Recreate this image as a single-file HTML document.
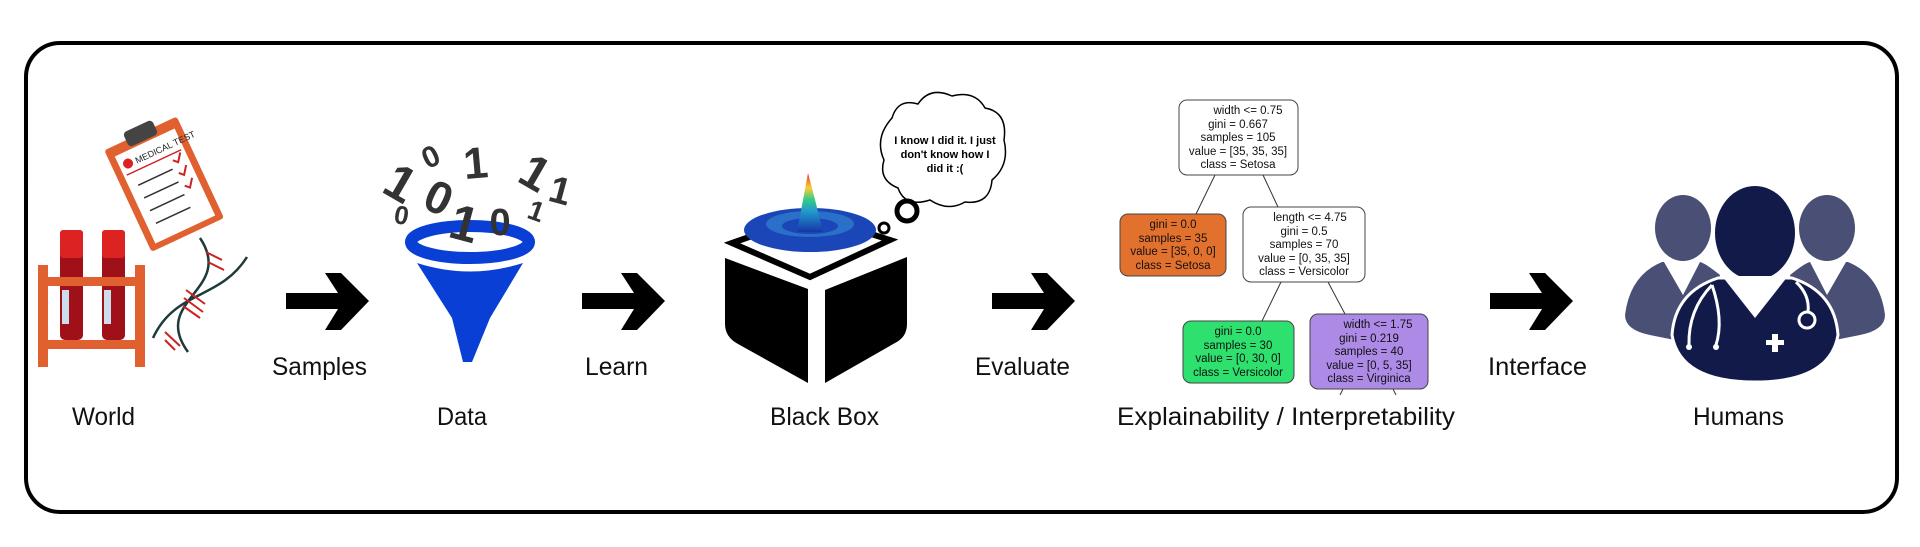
<!DOCTYPE html>
<html><head><meta charset="utf-8"><style>
html,body{margin:0;padding:0;background:#fff;width:1920px;height:547px;overflow:hidden}
svg{display:block}
.lbl{font-family:"Liberation Sans",sans-serif;font-size:25px;fill:#111}
.t{font-family:"Liberation Sans",sans-serif;font-size:11.5px;fill:#111;text-anchor:middle}
.n{font-family:"Liberation Sans",sans-serif;font-weight:bold;fill:#333;text-anchor:middle}
</style></head><body>
<svg width="1920" height="547" viewBox="0 0 1920 547" xmlns="http://www.w3.org/2000/svg">
<defs>
<linearGradient id="surf" x1="0" y1="0" x2="0" y2="1">
<stop offset="0" stop-color="#d33"/><stop offset="0.25" stop-color="#fc3"/><stop offset="0.45" stop-color="#3c8"/><stop offset="0.65" stop-color="#29c"/><stop offset="1" stop-color="#1537a8"/>
</linearGradient>
</defs>
<rect x="26" y="43" width="1871" height="469" rx="34" fill="none" stroke="#000" stroke-width="4"/>

<!-- World -->
<g transform="translate(165,186) rotate(-25)">
<rect x="-40" y="-58" width="80" height="112" fill="#e0602f" rx="3"/>
<rect x="-33" y="-48" width="66" height="96" fill="#fff"/>
<rect x="-16" y="-66" width="32" height="16" fill="#444" rx="4"/>
<circle cx="-24" cy="-36" r="5" fill="#d22"/>
<text x="-16" y="-32" font-family="Liberation Sans,sans-serif" font-size="9" fill="#222">MEDICAL TEST</text>
<line x1="-30" y1="-26" x2="30" y2="-26" stroke="#c22" stroke-width="1.5"/>
<g stroke="#333" stroke-width="1.5"><line x1="-24" y1="-12" x2="14" y2="-12"/><line x1="-24" y1="2" x2="14" y2="2"/><line x1="-24" y1="16" x2="14" y2="16"/><line x1="-24" y1="30" x2="14" y2="30"/></g>
<g stroke="#c22" stroke-width="2" fill="none"><path d="M18 -20 l4 4 l6 -8"/><path d="M18 -6 l4 4 l6 -8"/><path d="M18 8 l4 4 l6 -8"/></g>
</g>
<g>
<rect x="60" y="248" width="23" height="92" fill="#a01018" rx="5"/>
<rect x="102" y="248" width="23" height="92" fill="#a01018" rx="5"/>
<rect x="60" y="230" width="23" height="28" fill="#d22" rx="3"/>
<rect x="102" y="230" width="23" height="28" fill="#d22" rx="3"/>
<rect x="62" y="290" width="7" height="34" fill="#cde"/><rect x="104" y="290" width="7" height="34" fill="#cde"/>
<rect x="38" y="277" width="107" height="9" fill="#e0602f"/>
<rect x="38" y="340" width="107" height="9" fill="#e0602f"/>
<rect x="38" y="265" width="10" height="102" fill="#e0602f"/>
<rect x="135" y="265" width="10" height="102" fill="#e0602f"/>
</g>
<g fill="none" stroke="#1f3a3a" stroke-width="2.5">
<path d="M200 238 C 235 290, 150 300, 188 352"/>
<path d="M247 257 C 220 300, 175 290, 153 338"/>
</g>
<g stroke="#c22" stroke-width="2"><line x1="206" y1="252" x2="222" y2="260"/><line x1="208" y1="262" x2="224" y2="270"/><line x1="186" y1="290" x2="205" y2="304"/><line x1="184" y1="298" x2="203" y2="312"/><line x1="183" y1="306" x2="200" y2="318"/><line x1="165" y1="332" x2="180" y2="346"/><line x1="165" y1="340" x2="175" y2="350"/></g>
<text class="lbl" x="72" y="425" textLength="63" lengthAdjust="spacingAndGlyphs">World</text>

<!-- Arrows -->
<g fill="#000">
<path id="ar" d="M286 293 h52 l-13 -20 h16 l28 28 l-28 29 h-16 l13 -21 h-52z"/>
<use href="#ar" x="296"/><use href="#ar" x="706"/><use href="#ar" x="1204"/>
</g>
<text class="lbl" x="272" y="375" textLength="95" lengthAdjust="spacingAndGlyphs">Samples</text>
<text class="lbl" x="585" y="375" textLength="63" lengthAdjust="spacingAndGlyphs">Learn</text>
<text class="lbl" x="975" y="375" textLength="95" lengthAdjust="spacingAndGlyphs">Evaluate</text>
<text class="lbl" x="1488" y="375" textLength="99" lengthAdjust="spacingAndGlyphs">Interface</text>

<!-- Data funnel -->
<ellipse cx="470" cy="242" rx="59" ry="16" fill="none" stroke="#0a3fd6" stroke-width="12"/>
<path d="M417 263 Q470 280 523 263 L490 318 L472 362 L463 362 L452 318 Z" fill="#0a3fd6"/>
<text class="n" font-size="50" transform="translate(392,198) rotate(30)">1</text>
<text class="n" font-size="30" transform="translate(435,166) rotate(-25)">0</text>
<text class="n" font-size="44" transform="translate(477,178) rotate(-5)">1</text>
<text class="n" font-size="48" transform="translate(527,187) rotate(30)">1</text>
<text class="n" font-size="38" transform="translate(557,203) rotate(15)">1</text>
<text class="n" font-size="46" transform="translate(432,212) rotate(25)">0</text>
<text class="n" font-size="26" transform="translate(400,224) rotate(10)">0</text>
<text class="n" font-size="50" transform="translate(460,240) rotate(15)">1</text>
<text class="n" font-size="38" transform="translate(500,235) rotate(0)">0</text>
<text class="n" font-size="28" transform="translate(533,220) rotate(20)">1</text>
<text class="lbl" x="437" y="425" textLength="50" lengthAdjust="spacingAndGlyphs">Data</text>

<!-- Black box -->
<path d="M732 243 L812 215 L890 240 L810 277 Z" fill="#fff" stroke="#000" stroke-width="6"/>
<ellipse cx="810" cy="230" rx="66" ry="22" fill="#1b46b8"/>
<ellipse cx="810" cy="224" rx="44" ry="13" fill="#2a6fc8"/>
<ellipse cx="810" cy="226" rx="28" ry="8" fill="#1b46b8"/>
<path d="M797 232 Q804 195 808 173 Q814 195 823 232 Z" fill="url(#surf)"/>
<path d="M725 258 L808 289 L808 383 L738 344 Q725 337 725 324 Z" fill="#000"/>
<path d="M825 290 L907 257 L907 324 Q907 337 895 343 L825 383 Z" fill="#000"/>
<text class="lbl" x="770" y="425" textLength="109" lengthAdjust="spacingAndGlyphs">Black Box</text>
<!-- Thought cloud -->
<path d="M892 118 Q898 98 918 104 Q930 86 952 96 Q975 90 985 108 Q1008 112 1004 140 Q1010 165 992 180 Q990 205 965 202 Q948 212 930 200 Q905 208 898 188 Q878 180 884 160 Q874 138 892 118 Z" fill="#fff" stroke="#000" stroke-width="1.5"/>
<g font-family="Liberation Sans,sans-serif" font-weight="bold" font-size="11" text-anchor="middle" fill="#000">
<text x="945" y="144">I know I did it. I just</text><text x="945" y="158">don't know how I</text><text x="945" y="172">did it :(</text></g>
<circle cx="907" cy="211" r="10" fill="none" stroke="#000" stroke-width="5"/>
<circle cx="884" cy="228" r="5" fill="none" stroke="#000" stroke-width="3"/>

<!-- Tree -->
<g stroke="#333" stroke-width="1" fill="none">
<line x1="1215" y1="175" x2="1196" y2="214"/><line x1="1263" y1="175" x2="1278" y2="207"/>
<line x1="1281" y1="282" x2="1262" y2="321"/><line x1="1328" y1="282" x2="1345" y2="314"/>
<line x1="1343" y1="389" x2="1340" y2="395"/><line x1="1393" y1="389" x2="1396" y2="395"/>
</g>
<rect x="1179" y="100" width="119" height="75" rx="8" fill="#fff" stroke="#444"/>
<rect x="1120" y="214" width="106" height="62" rx="8" fill="#e2712e" stroke="#444"/>
<rect x="1243" y="207" width="122" height="75" rx="8" fill="#fff" stroke="#444"/>
<rect x="1183" y="321" width="111" height="62" rx="8" fill="#2ee06e" stroke="#444"/>
<rect x="1310" y="314" width="118" height="75" rx="8" fill="#ad8ae6" stroke="#444"/>
<g class="t">
<text x="1248" y="114">width &lt;= 0.75</text><text x="1238" y="128">gini = 0.667</text><text x="1238" y="141">samples = 105</text><text x="1238" y="155">value = [35, 35, 35]</text><text x="1238" y="168">class = Setosa</text>
<text x="1173" y="228">gini = 0.0</text><text x="1173" y="242">samples = 35</text><text x="1173" y="255">value = [35, 0, 0]</text><text x="1173" y="269">class = Setosa</text>
<text x="1310" y="221">length &lt;= 4.75</text><text x="1304" y="235">gini = 0.5</text><text x="1304" y="248">samples = 70</text><text x="1304" y="262">value = [0, 35, 35]</text><text x="1304" y="275">class = Versicolor</text>
<text x="1238" y="335">gini = 0.0</text><text x="1238" y="349">samples = 30</text><text x="1238" y="362">value = [0, 30, 0]</text><text x="1238" y="376">class = Versicolor</text>
<text x="1378" y="328">width &lt;= 1.75</text><text x="1369" y="342">gini = 0.219</text><text x="1369" y="355">samples = 40</text><text x="1369" y="369">value = [0, 5, 35]</text><text x="1369" y="382">class = Virginica</text>
</g>
<text class="lbl" x="1117" y="425" textLength="338" lengthAdjust="spacingAndGlyphs">Explainability / Interpretability</text>

<!-- Humans -->
<g fill="#4a5075">
<ellipse cx="1683" cy="228" rx="28" ry="33"/>
<ellipse cx="1827" cy="228" rx="28" ry="33"/>
<path d="M1662 262 Q1630 275 1625 315 Q1625 330 1650 335 L1700 345 L1720 275 Q1705 263 1700 262 Z"/>
<path d="M1848 262 Q1880 275 1885 315 Q1885 330 1860 335 L1810 345 L1790 275 Q1805 263 1810 262 Z"/>
</g>
<g fill="#fff"><path d="M1664 262 L1683 295 L1700 262 Z"/><path d="M1810 262 L1827 295 L1846 262 Z"/></g>
<ellipse cx="1755" cy="233" rx="40" ry="47" fill="#121a4a"/>
<path d="M1718 278 Q1675 292 1672 335 Q1680 382 1755 382 Q1830 382 1838 335 Q1835 292 1792 278 Z" fill="#121a4a" stroke="#fff" stroke-width="3"/>
<path d="M1722 276 L1755 318 L1788 276 Z" fill="#fff"/>
<g fill="none" stroke="#fff" stroke-width="3">
<path d="M1712 285 Q1688 310 1689 345"/><path d="M1712 285 Q1724 320 1716 345"/>
<path d="M1796 282 Q1810 295 1808 312"/><circle cx="1807" cy="320" r="8"/>
</g>
<circle cx="1689" cy="347" r="3" fill="#fff"/><circle cx="1716" cy="347" r="3" fill="#fff"/>
<rect x="1766" y="340" width="18" height="5" fill="#fff"/><rect x="1772" y="334" width="6" height="18" fill="#fff"/>
<text class="lbl" x="1693" y="425" textLength="91" lengthAdjust="spacingAndGlyphs">Humans</text>
</svg>
</body></html>
